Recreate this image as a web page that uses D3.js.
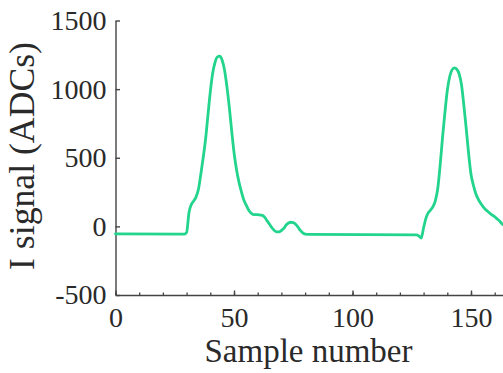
<!DOCTYPE html>
<html>
<head>
<meta charset="utf-8">
<script src="https://d3js.org/d3.v7.min.js"></script>
<style>
  html, body { margin: 0; padding: 0; background: #fff; overflow: hidden; }
  svg { display: block; }
  svg text { font-family: "Liberation Serif", "DejaVu Serif", serif; }
</style>
</head>
<body>
<svg id="chart" width="503" height="373"></svg>
<script>
// ---- data ----
const samples = [0, 29, 30, 31, 32, 33, 34, 35, 36, 37, 38, 39, 40, 41, 42, 43, 44, 45, 46, 47, 48, 49, 50,
  51, 52, 53, 54, 55, 56, 57, 58, 60, 62, 63, 64, 65, 66, 67, 68, 69, 70, 71, 72, 73, 74, 75, 76, 77, 78, 79, 80, 82,
  127, 128, 129, 130, 131, 132, 133, 134, 135, 136, 137, 138, 139, 140, 141, 142, 143, 144, 145, 146, 147, 148, 149,
  150, 151, 152, 153, 154, 155, 156, 157, 158, 159, 160, 161, 162, 163, 164, 165];
const signal = [-55, -57, -45, 100, 160, 185, 215, 270, 380, 500, 635, 810, 980, 1115, 1195, 1235, 1240, 1210, 1140, 1020, 870, 700, 540,
  420, 330, 260, 200, 160, 125, 100, 88, 85, 80, 65, 40, 15, -10, -30, -40, -40, -30, -15, 10, 25, 30, 28, 15, -5, -30, -48, -56, -58,
  -62, -70, -85, -10, 60, 100, 120, 145, 190, 280, 450, 650, 830, 990, 1090, 1140, 1155, 1145, 1110, 1030, 880, 710, 530,
  380, 300, 240, 200, 170, 145, 125, 110, 95, 82, 70, 55, 40, 20, 5, -10];
const xMajorTicks = [0, 50, 100, 150];
const xMinorTicks = d3.range(0, 171, 10);
const yTicks = [-500, 0, 500, 1000, 1500];
const xLabel = "Sample number";
const yLabel = "I signal (ADCs)";

// ---- layout ----
const svg = d3.select("#chart");
const x0 = 115.5, pxPerSample = 2.37;
const x = d3.scaleLinear().domain([0, 170]).range([x0, x0 + 170 * pxPerSample]);
const y = d3.scaleLinear().domain([-500, 1500]).range([295, 20.5]);
const axisColor = "#444";
const textColor = "#2a2a2a";
const fmt = d => String(d);

// minor x ticks
const gxMinor = svg.append("g").attr("transform", `translate(0,${y(-500)})`)
  .call(d3.axisBottom(x).tickValues(xMinorTicks).tickFormat("").tickSizeInner(-2.5).tickSizeOuter(0));
gxMinor.attr("font-family", null);
gxMinor.select(".domain").remove();
gxMinor.selectAll("line").attr("stroke", axisColor).attr("stroke-width", 1.3);

// major x axis
const gx = svg.append("g").attr("transform", `translate(0,${y(-500)})`)
  .call(d3.axisBottom(x).tickValues(xMajorTicks).tickFormat(fmt).tickSizeInner(-4.5).tickSizeOuter(0).tickPadding(12));
gx.attr("font-family", null).attr("font-size", null);
gx.select(".domain").attr("stroke", axisColor).attr("stroke-width", 1.4);
gx.selectAll("line").attr("stroke", axisColor).attr("stroke-width", 1.4);
gx.selectAll("text").style("font-size", "28px").attr("fill", textColor);

// y axis
const gy = svg.append("g").attr("transform", `translate(${x0},0)`)
  .call(d3.axisLeft(y).tickValues(yTicks).tickFormat(fmt).tickSizeInner(-4.5).tickSizeOuter(0).tickPadding(9));
gy.attr("font-family", null).attr("font-size", null);
gy.select(".domain").attr("stroke", axisColor).attr("stroke-width", 1.4);
gy.selectAll("line").attr("stroke", axisColor).attr("stroke-width", 1.4);
gy.selectAll("text").style("font-size", "28px").attr("fill", textColor);

// line
const pts = samples.map((s, i) => [s, signal[i]]);
const line = d3.line().x(d => x(d[0])).y(d => y(d[1])).curve(d3.curveMonotoneX);
svg.append("path").datum(pts)
  .attr("d", line)
  .attr("fill", "none")
  .attr("stroke", "#22d48c")
  .attr("stroke-width", 2.8)
  .attr("stroke-linejoin", "round")
  .attr("stroke-linecap", "round");

// axis labels, sized to the reference widths
function fit(sel, target) {
  sel.style("font-size", "30px");
  const w = sel.node().getComputedTextLength();
  sel.style("font-size", (30 * target / w) + "px");
}
const xl = svg.append("text").text(xLabel)
  .attr("x", 308.5).attr("y", 362).attr("text-anchor", "middle")
  .attr("fill", textColor);
fit(xl, 208);
const yl = svg.append("text").text(yLabel)
  .attr("transform", "translate(34,156) rotate(-90)").attr("text-anchor", "middle")
  .attr("fill", textColor);
fit(yl, 228);
</script>
</body>
</html>
